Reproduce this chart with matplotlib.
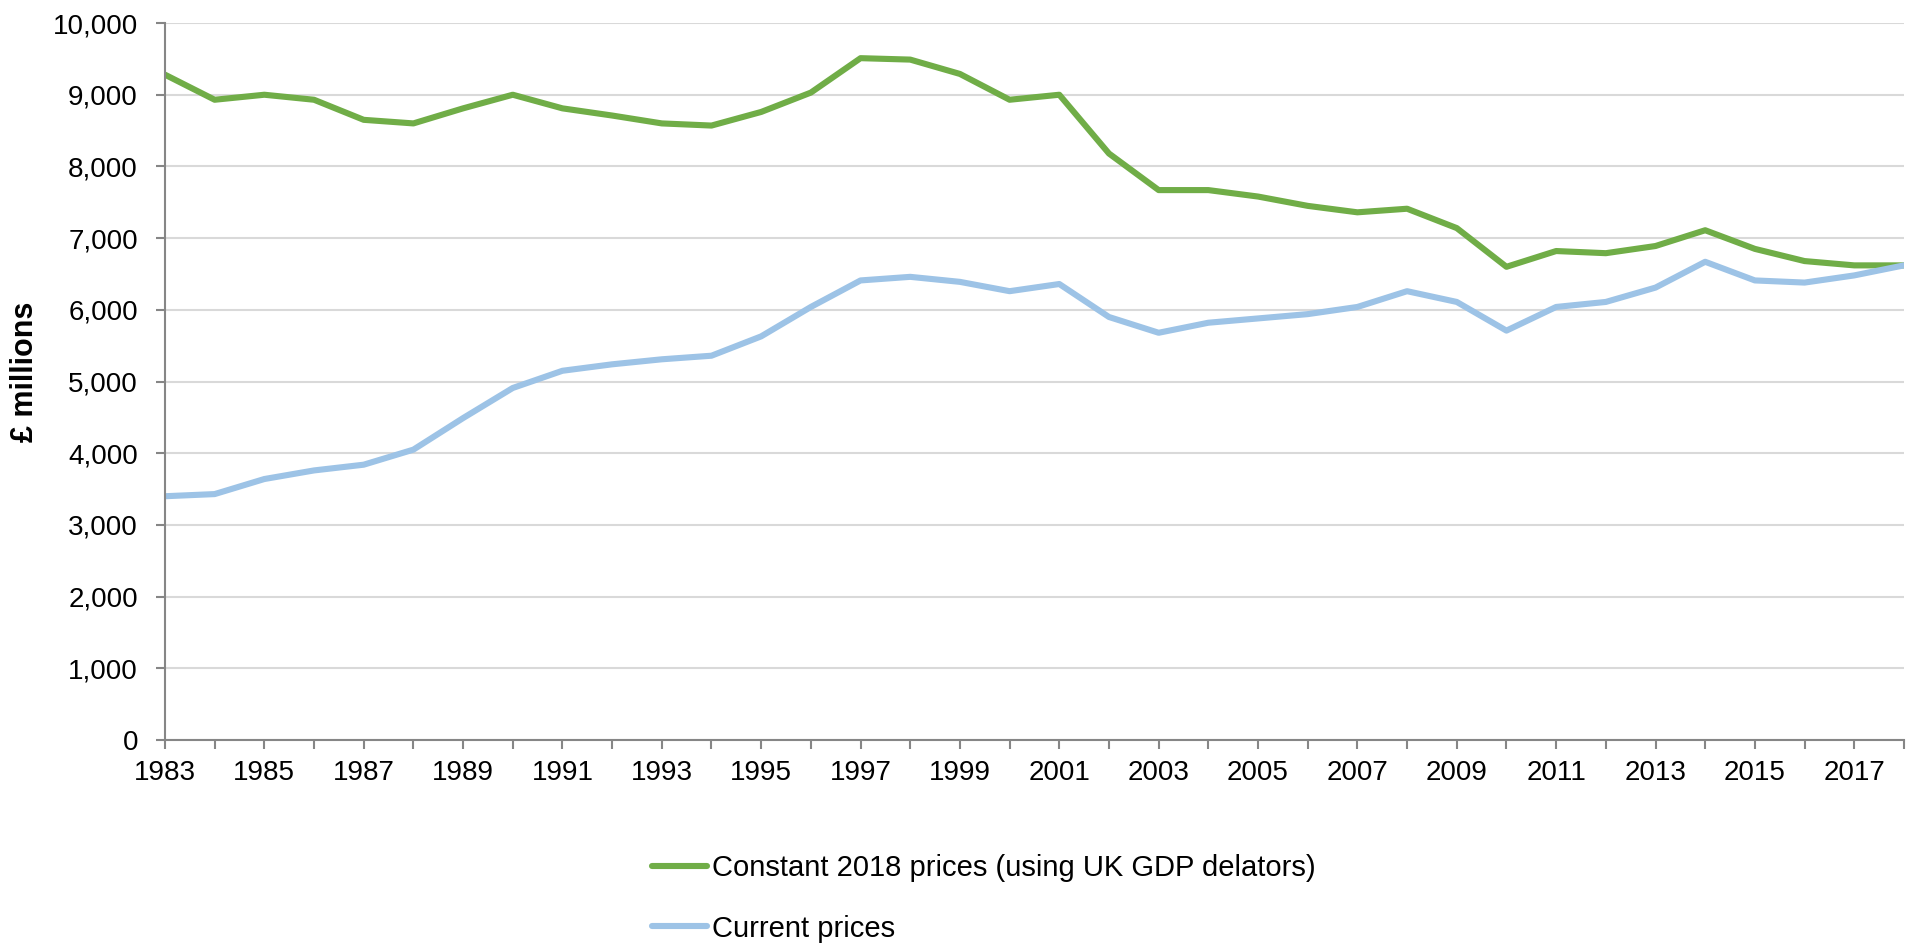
import matplotlib
matplotlib.use("Agg")
import matplotlib.pyplot as plt
from matplotlib.ticker import FuncFormatter

years = list(range(1983, 2019))

# Constant 2018 prices (using UK GDP delators), £ millions
constant_prices = [9280, 8930, 9000, 8930, 8650, 8600, 8810, 9000, 8810, 8710,
                   8600, 8570, 8760, 9030, 9510, 9490, 9290, 8930, 9000, 8180,
                   7670, 7670, 7580, 7450, 7360, 7410, 7140, 6600, 6820, 6790,
                   6890, 7110, 6850, 6680, 6620, 6620]

# Current prices, £ millions
current_prices = [3400, 3430, 3640, 3760, 3840, 4050, 4490, 4910, 5150, 5240,
                  5310, 5360, 5630, 6040, 6410, 6460, 6390, 6260, 6360, 5900,
                  5680, 5820, 5880, 5940, 6040, 6260, 6110, 5710, 6040, 6110,
                  6310, 6670, 6410, 6380, 6480, 6620]

legend_labels = ["Constant 2018 prices (using UK GDP delators)", "Current prices"]

plt.rcParams["font.family"] = ["Liberation Sans", "DejaVu Sans"]

fig = plt.figure(figsize=(19.16, 9.48), dpi=100)
ax = fig.add_axes([0.0861, 0.2194, 0.9937 - 0.0861, 0.9757 - 0.2194])

l1, = ax.plot(years, constant_prices, color="#70AD47", linewidth=4.4, solid_capstyle="round")
l2, = ax.plot(years, current_prices, color="#9DC3E6", linewidth=4.4, solid_capstyle="round")

ax.set_xlim(1983, 2018)
ax.set_ylim(0, 10000)
ax.set_yticks(range(0, 10001, 1000))
ax.yaxis.set_major_formatter(FuncFormatter(lambda v, p: f"{int(v):,}"))
ax.set_xticks(years)
ax.set_xticklabels([str(y) if (y - 1983) % 2 == 0 else "" for y in years])

ax.grid(axis="y", color="#D9D9D9", linewidth=1.5)
ax.set_axisbelow(True)
for side in ["top", "right"]:
    ax.spines[side].set_visible(False)
for side in ["left", "bottom"]:
    ax.spines[side].set_color("#868686")
    ax.spines[side].set_linewidth(1.5)
ax.tick_params(axis="both", colors="#868686", width=1.5, length=6.5, labelsize=20,
               labelcolor="black")
ax.tick_params(axis="y", pad=13)
ax.tick_params(axis="x", pad=8)

fig.text(25 / 1916, 1 - 372 / 948, "£ millions", rotation=90, fontsize=22,
         fontweight="bold", ha="center", va="center")

leg = fig.legend([l1, l2], legend_labels, loc="center left",
                 bbox_to_anchor=(652 / 1916, 0.0522), frameon=False,
                 borderpad=0, borderaxespad=0, handlelength=1.9,
                 handletextpad=0.17, labelspacing=1.1,
                 prop={"size": 21})

fig.savefig("out.png", dpi=100)
